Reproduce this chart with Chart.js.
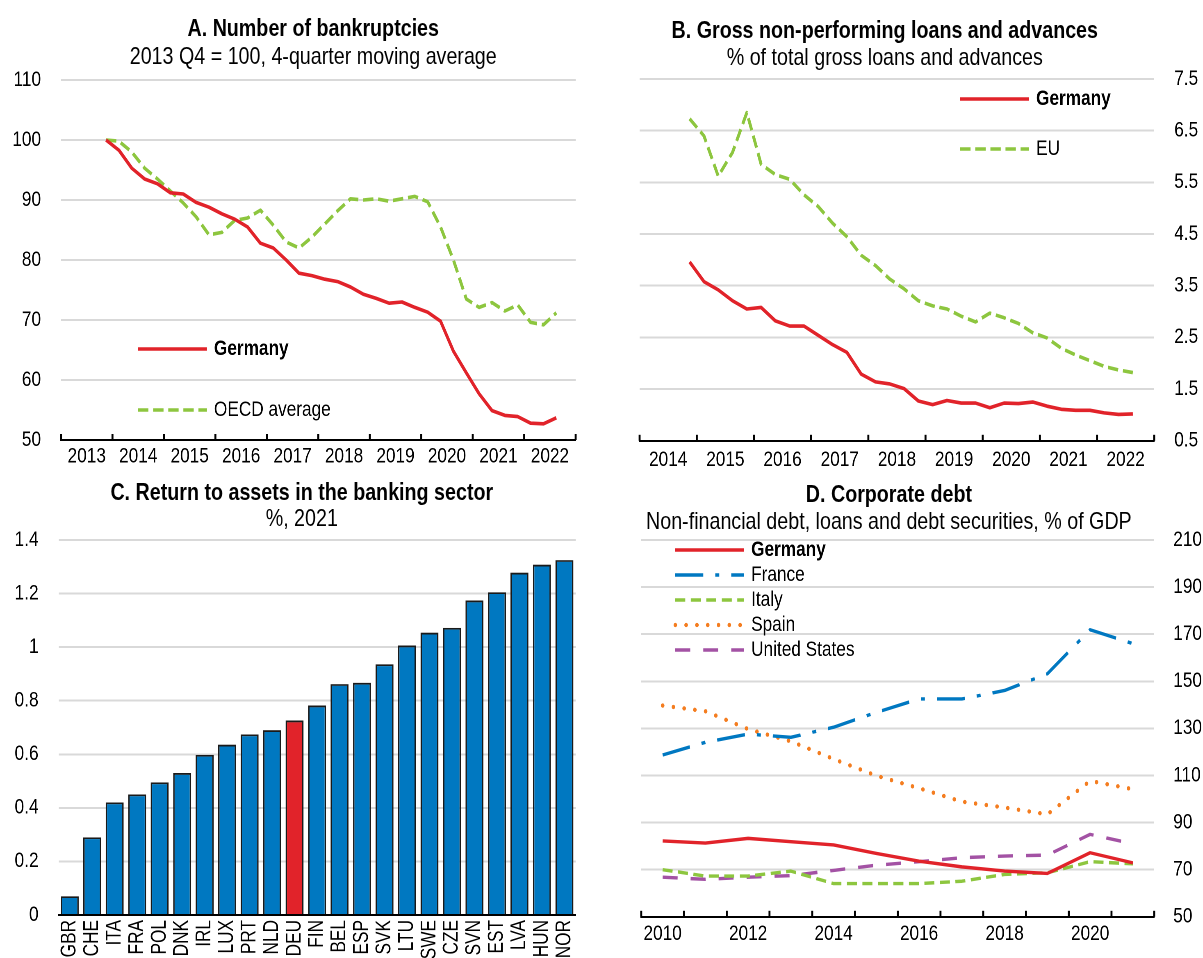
<!DOCTYPE html>
<html>
<head>
<meta charset="utf-8">
<script src="https://cdn.jsdelivr.net/npm/chart.js@4.4.1/dist/chart.umd.min.js"></script>
<style>
  html, body { margin: 0; padding: 0; background: #fff; overflow: hidden; width: 1203px; height: 958px; }
  /* Arial Narrow is not installed: draw everything with Liberation Sans and squeeze it to 82% */
  #stage { position: absolute; left: 0; top: 0; width: 1467px; height: 958px; transform: scaleX(0.82); transform-origin: 0 0; }
  canvas { position: absolute; }
  .ttl { position: absolute; width: 800px; text-align: center; white-space: nowrap;
         font-family: 'Liberation Sans', Arial, sans-serif; font-size: 24px; line-height: 28px; color: #000; z-index: 2; }
  .ttl.b { font-weight: bold; }
</style>
</head>
<body>
<div id="stage">
  <div class="ttl b" style="left:-18px;top:14px">A. Number of bankruptcies</div>
  <div class="ttl" style="left:-18px;top:42px">2013 Q4 = 100, 4-quarter moving average</div>
  <div class="ttl b" style="left:679px;top:16px">B. Gross non-performing loans and advances</div>
  <div class="ttl" style="left:679px;top:43px">% of total gross loans and advances</div>
  <div class="ttl b" style="left:-32px;top:478px">C. Return to assets in the banking sector</div>
  <div class="ttl" style="left:-32px;top:504px">%, 2021</div>
  <div class="ttl b" style="left:684px;top:480px">D. Corporate debt</div>
  <div class="ttl" style="left:684px;top:507px">Non-financial debt, loans and debt securities, % of GDP</div>

  <canvas id="chartA" width="732" height="477" style="left:0;top:0"></canvas>
  <canvas id="chartB" width="735" height="480" style="left:732px;top:0"></canvas>
  <canvas id="chartC" width="732" height="500" style="left:0;top:470px"></canvas>
  <canvas id="chartD" width="735" height="488" style="left:732px;top:470px"></canvas>
</div>

<script>
// ---- Data ----
// A. Number of bankruptcies, 2013 Q4 = 100 (quarterly, 2013Q4 - 2022Q3)
const bankruptcyGermany = [100, 98.3, 95.3, 93.5, 92.7, 91.2, 91.0, 89.6, 88.8, 87.7, 86.8, 85.5,
  82.8, 82.0, 80.0, 77.8, 77.4, 76.8, 76.4, 75.5, 74.3, 73.6, 72.8, 73.0, 72.1, 71.3, 69.8, 64.8,
  61.2, 57.7, 54.9, 54.1, 53.9, 52.8, 52.7, 53.7];
const bankruptcyOECD = [100, 99.8, 98.0, 95.3, 93.5, 91.5, 89.5, 87.2, 84.2, 84.6, 86.6, 87.0,
  88.3, 85.8, 83.0, 82.0, 83.8, 86.0, 88.2, 90.2, 90.0, 90.2, 89.8, 90.2, 90.6, 89.7, 85.5, 80.0,
  73.5, 72.1, 72.9, 71.5, 72.5, 69.6, 69.2, 71.2];

// B. Gross NPLs, % of total gross loans (quarterly, 2014Q4 - 2022Q3)
const nplGermany = [3.96, 3.58, 3.42, 3.21, 3.05, 3.08, 2.82, 2.72, 2.72, 2.54, 2.36, 2.21,
  1.79, 1.64, 1.60, 1.51, 1.27, 1.20, 1.28, 1.23, 1.23, 1.14, 1.23, 1.22, 1.25, 1.17, 1.11,
  1.09, 1.09, 1.04, 1.01, 1.02];
const nplEU = [6.73, 6.40, 5.62, 6.08, 6.85, 5.85, 5.65, 5.56, 5.26, 5.03, 4.71, 4.45,
  4.09, 3.89, 3.63, 3.44, 3.21, 3.11, 3.05, 2.91, 2.80, 2.97, 2.88, 2.77, 2.59, 2.49, 2.29,
  2.16, 2.05, 1.94, 1.87, 1.82];

// C. Return on assets, %, 2021
const roaCountries = ['GBR', 'CHE', 'ITA', 'FRA', 'POL', 'DNK', 'IRL', 'LUX', 'PRT', 'NLD', 'DEU', 'FIN',
  'BEL', 'ESP', 'SVK', 'LTU', 'SWE', 'CZE', 'SVN', 'EST', 'LVA', 'HUN', 'NOR'];
const roaValues = [0.07, 0.29, 0.42, 0.45, 0.495, 0.53, 0.598, 0.636, 0.674, 0.69, 0.726, 0.782,
  0.862, 0.867, 0.936, 1.006, 1.054, 1.072, 1.174, 1.205, 1.278, 1.308, 1.325];

// D. Corporate debt, % of GDP (annual)
const debtYears = [2010, 2011, 2012, 2013, 2014, 2015, 2016, 2017, 2018, 2019, 2020, 2021];
const debtGermany = [82.2, 81.3, 83.3, 81.9, 80.5, 76.9, 73.6, 71.2, 69.4, 68.4, 77.2, 72.9];
const debtFrance = [118.7, 124.1, 127.6, 126.2, 130.5, 136.8, 142.5, 142.5, 146.1, 153.2, 171.9, 166.0];
const debtItaly = [70.0, 67.3, 67.3, 69.4, 64.1, 64.1, 64.1, 65.1, 68.0, 68.7, 73.4, 72.5];
const debtSpain = [139.7, 137.3, 129.7, 124.5, 117.0, 109.9, 104.6, 98.9, 96.4, 93.5, 107.7, 104.2];
const debtUS = [66.8, 65.9, 66.8, 67.5, 69.7, 71.9, 73.4, 75.1, 75.8, 76.2, 85.0, 81.0];

// ---- Styles ----
const K = 0.82; // horizontal squeeze of #stage
const FONT = "'Liberation Sans', Arial, sans-serif";
const RED = '#E1232A', GREEN = '#8DC63F', BLUE = '#0078C1', ORANGE = '#F47D20', PURPLE = '#A352A4';
const GRID = '#D9D9D9';

Chart.defaults.font.family = FONT;
Chart.defaults.font.size = 21;
Chart.defaults.color = '#000';
Chart.defaults.animation = false;

// quarter list like ['2013Q4', '2014Q1', ...]
function quarterRange(start, count) {
  const out = [];
  let y = +start.slice(0, 4), q = +start.slice(5);
  for (let i = 0; i < count; i++) {
    out.push(y + 'Q' + q);
    q++; if (q > 4) { q = 1; y++; }
  }
  return out;
}
// quarter label -> position on a year axis (middle of the quarter)
function quarterX(label) {
  return +label.slice(0, 4) + (+label.slice(5) - 0.5) / 4;
}
function toPoints(labels, values, xf) {
  return values.map((v, i) => ({ x: xf(labels[i]), y: v }));
}

// small upward tick marks on the x axis, every `step` from the scale min
const tickMarks = {
  id: 'tickMarks',
  afterDraw(chart, args, opts) {
    if (!opts.step) return;
    const sc = chart.scales.x, ctx = chart.ctx, bottom = chart.chartArea.bottom;
    ctx.save();
    ctx.strokeStyle = '#000';
    ctx.lineWidth = 2.4;
    for (let v = sc.min; v <= sc.max + 1e-6; v += opts.step) {
      const x = sc.getPixelForValue(v);
      ctx.beginPath();
      ctx.moveTo(x, bottom);
      ctx.lineTo(x, bottom - opts.length);
      ctx.stroke();
    }
    ctx.restore();
  }
};

// legend drawn inside the plot, one row per dataset
const lineLegend = {
  id: 'lineLegend',
  afterDatasetsDraw(chart, args, opts) {
    if (!opts.rows) return;
    const { ctx, chartArea } = chart;
    ctx.save();
    chart.data.datasets.forEach((ds, i) => {
      const x = chartArea.left + opts.x;
      const y = chartArea.top + opts.rows[i];
      ctx.strokeStyle = ds.borderColor;
      ctx.lineWidth = ds.borderWidth;
      ctx.lineCap = ds.borderCapStyle || 'butt';
      ctx.setLineDash(ds.borderDash || []);
      ctx.beginPath();
      ctx.moveTo(x, y);
      ctx.lineTo(x + opts.length, y);
      ctx.stroke();
      ctx.setLineDash([]);
      ctx.fillStyle = '#000';
      ctx.textBaseline = 'middle';
      ctx.font = (i === 0 ? 'bold ' : '') + '21px ' + FONT;
      ctx.fillText(ds.label, x + opts.length + 8.5, y);
    });
    ctx.restore();
  }
};

// vertical category labels (text squeezed along its length like the rest of the page)
const vLabels = {
  id: 'vLabels',
  afterDraw(chart, args, opts) {
    if (!opts.offset) return;
    const sc = chart.scales.x, ctx = chart.ctx, y0 = chart.chartArea.bottom + opts.offset;
    ctx.save();
    ctx.fillStyle = '#000';
    ctx.font = '21px ' + FONT;
    ctx.textAlign = 'right';
    ctx.textBaseline = 'middle';
    chart.data.labels.forEach((lab, i) => {
      ctx.save();
      ctx.translate(sc.getPixelForTick(i), y0);
      ctx.rotate(-Math.PI / 2);
      ctx.scale(K, 1 / K);
      ctx.fillText(lab, 0, 0);
      ctx.restore();
    });
    ctx.restore();
  }
};

function lineDs(label, data, color, dash, extra) {
  return Object.assign({
    label: label, data: data, borderColor: color, backgroundColor: color,
    borderWidth: 3.6, borderDash: dash, pointRadius: 0, tension: 0,
    borderJoinStyle: 'round', fill: false
  }, extra || {});
}

function yearAxis(min, max, labelFn, pad) {
  return {
    type: 'linear', min: min, max: max,
    grid: { display: false, drawTicks: false },
    border: { display: true, color: '#000', width: 2 },
    ticks: { stepSize: 0.5, autoSkip: false, maxRotation: 0, padding: pad, callback: labelFn }
  };
}
// value axis with a fixed width (label gap `pad` from the plot)
function valueAxis(pos, min, max, step, fmt, width, pad) {
  return {
    position: pos, min: min, max: max,
    border: { display: false },
    grid: { drawTicks: false, lineWidth: 2,
            color: c => c.tick && c.tick.value === min ? 'rgba(0,0,0,0)' : GRID },
    ticks: { stepSize: step, padding: pad, callback: fmt },
    afterFit: s => { s.width = width; }
  };
}
const midYearLabel = v => (Math.abs(v % 1 - 0.5) < 1e-6 ? String(Math.floor(v)) : '');
const evenYearLabel = v => (Number.isInteger(v) && v % 2 === 0 ? String(v) : '');
const common = { legend: { display: false }, tooltip: { enabled: false } };

// ---- A ----
const quartersA = quarterRange('2013Q4', bankruptcyGermany.length);
new Chart(document.getElementById('chartA'), {
  type: 'line',
  data: {
    datasets: [
      lineDs('Germany', toPoints(quartersA, bankruptcyGermany, quarterX), RED, []),
      lineDs('OECD average', toPoints(quartersA, bankruptcyOECD, quarterX), GREEN, [12.6, 5.8])
    ]
  },
  options: {
    responsive: false, devicePixelRatio: 2,
    layout: { padding: { top: 80, left: 0, right: 30, bottom: 0 } },
    scales: {
      x: yearAxis(2013, 2023, midYearLabel, 4),
      y: valueAxis('left', 50, 110, 10, v => v, 74.4, 24.4)
    },
    plugins: Object.assign({
      tickMarks: { step: 1, length: 6 },
      lineLegend: { x: 94, rows: [269, 330], length: 84 }
    }, common)
  },
  plugins: [tickMarks, lineLegend]
});

// ---- B ----
const quartersB = quarterRange('2014Q4', nplGermany.length);
new Chart(document.getElementById('chartB'), {
  type: 'line',
  data: {
    datasets: [
      lineDs('Germany', toPoints(quartersB, nplGermany, quarterX), RED, []),
      lineDs('EU', toPoints(quartersB, nplEU, quarterX), GREEN, [12.6, 5.8])
    ]
  },
  options: {
    responsive: false, devicePixelRatio: 2,
    layout: { padding: { top: 79, left: 48, right: 0, bottom: 0 } },
    scales: {
      x: yearAxis(2014, 2023, midYearLabel, 7),
      y: valueAxis('right', 0.5, 7.5, 1, v => v.toFixed(1), 59.4, 24.4)
    },
    plugins: Object.assign({
      tickMarks: { step: 1, length: 6 },
      lineLegend: { x: 391, rows: [20, 70], length: 84 }
    }, common)
  },
  plugins: [tickMarks, lineLegend]
});

// ---- C ----
new Chart(document.getElementById('chartC'), {
  type: 'bar',
  data: {
    labels: roaCountries,
    datasets: [{
      data: roaValues,
      backgroundColor: roaCountries.map(c => c === 'DEU' ? RED : BLUE),
      borderColor: '#1A1A1A', borderWidth: 1.8,
      barPercentage: 0.8, categoryPercentage: 1
    }]
  },
  options: {
    responsive: false, devicePixelRatio: 2,
    layout: { padding: { top: 70, left: 0, right: 30, bottom: 55 } },
    scales: {
      x: {
        grid: { display: false, drawTicks: false },
        border: { display: true, color: '#000', width: 2 },
        ticks: { display: false }
      },
      y: valueAxis('left', 0, 1.4, 0.2, v => String(Number(v.toFixed(1))), 71.3, 24.3)
    },
    plugins: Object.assign({ vLabels: { offset: 5 } }, common)
  },
  plugins: [vLabels]
});

// ---- D ----
const dash = arr => arr.map(v => v / K);
new Chart(document.getElementById('chartD'), {
  type: 'line',
  data: {
    datasets: [
      lineDs('Germany', toPoints(debtYears, debtGermany, Number), RED, [], { borderWidth: 3.4 }),
      lineDs('France', toPoints(debtYears, debtFrance, Number), BLUE, dash([28, 12, 4, 12]), { borderWidth: 3.4 }),
      lineDs('Italy', toPoints(debtYears, debtItaly, Number), GREEN, dash([10, 5.5]), { borderWidth: 3.4 }),
      lineDs('Spain', toPoints(debtYears, debtSpain, Number), ORANGE, dash([0.1, 10.7]), { borderWidth: 4.3, borderCapStyle: 'round' }),
      lineDs('United States', toPoints(debtYears, debtUS, Number), PURPLE, dash([15, 13]), { borderWidth: 3.4 })
    ]
  },
  options: {
    responsive: false, devicePixelRatio: 2,
    layout: { padding: { top: 70, left: 50, right: 0, bottom: 6 } },
    scales: {
      x: yearAxis(2009.5, 2021.5, evenYearLabel, 5),
      y: valueAxis('right', 50, 210, 20, v => v, 59.4, 23.2)
    },
    plugins: Object.assign({
      tickMarks: { step: 1, length: 6 },
      lineLegend: { x: 41.5, rows: [10, 35, 60, 85, 110], length: 84 }
    }, common)
  },
  plugins: [tickMarks, lineLegend]
});
</script>
</body>
</html>
